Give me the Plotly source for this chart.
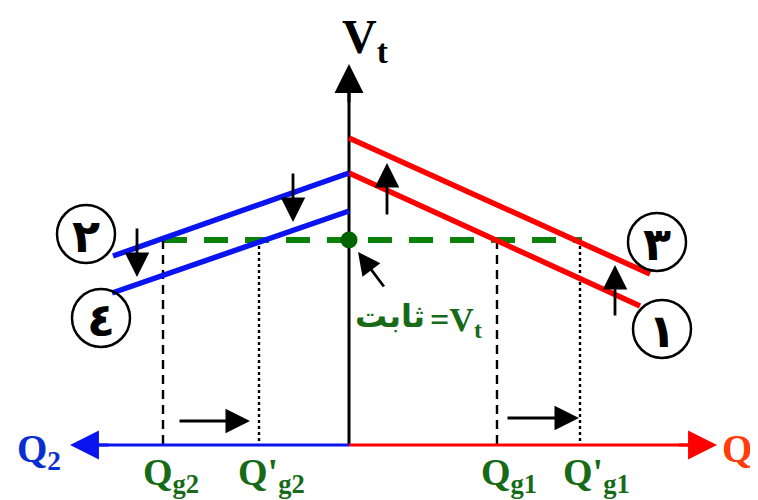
import plotly.graph_objects as go

# ---------------- data (diagram units: Q horizontal, Vt vertical; origin at axis crossing)
q_axis_left = -279          # Q2 direction arrow tip
q_axis_right = 368          # Q1 direction arrow tip
v_axis_top = 381            # Vt arrow tip

v_const = 205               # Vt = constant level
q_marks = [-186, -90, 148, 231]
q_mark_labels = ["Q<sub>g2</sub>", "Q'<sub>g2</sub>", "Q<sub>g1</sub>", "Q'<sub>g1</sub>"]
q_mark_dash = ["9px,6px", "3px,3px", "9px,6px", "3px,3px"]

# droop lines: name, end Q, Vt at Q=0, Vt at end
droop_names = ["١", "٢", "٣", "٤"]
droop_q_end = [291, -236, 301, -237]
droop_v_start = [272, 272, 307, 234]
droop_v_end = [139, 189, 171, 152]
droop_colors = ["#ff0000", "#0a14f0", "#ff0000", "#0a14f0"]

# circle label centres
circle_q = [313, -263, 308, -248]
circle_v = [116, 211, 203, 127]
circle_r = 29

# shift arrows (vertical): q, v from, v to
shift_q = [-212, -56, 38, 266]
shift_v_from = [218, 273, 229, 128]
shift_v_to = [168, 223, 282, 180]

# shift arrows (horizontal): v, q from, q to
hshift_v = [24, 27]
hshift_q_from = [-171, 157]
hshift_q_to = [-99, 230]

GREEN_TXT = "#176a17"
SERIF = "Liberation Serif, Times New Roman, serif"
ARABIC = "DejaVu Sans, Noto Sans, sans-serif"

# page body has an 8px margin: offset ranges so diagram lands at window pixels
PAGE_OFF = 8
FIG_W, FIG_H = 758 - PAGE_OFF, 500 - PAGE_OFF
X_RANGE = [-349 + PAGE_OFF, -349 + PAGE_OFF + FIG_W]
Y_RANGE = [445 - PAGE_OFF - FIG_H, 445 - PAGE_OFF]
LABEL_DX = [8, 12, 12, 16]

fig = go.Figure()

# vertical axis line
fig.add_trace(go.Scatter(x=[0, 0], y=[0, v_axis_top - 20], mode="lines",
                         line=dict(color="black", width=3), hoverinfo="skip"))

# green constant-voltage dashed line
fig.add_trace(go.Scatter(x=[q_marks[0], 233], y=[v_const, v_const], mode="lines",
                         line=dict(color="#0a820a", width=6, dash="24px,17px"), hoverinfo="skip"))

# vertical projection lines
for q, d in zip(q_marks, q_mark_dash):
    fig.add_trace(go.Scatter(x=[q, q], y=[v_const, 0], mode="lines",
                             line=dict(color="black", width=2.4, dash=d), hoverinfo="skip"))

# droop lines
for qe, vs, ve, c in zip(droop_q_end, droop_v_start, droop_v_end, droop_colors):
    fig.add_trace(go.Scatter(x=[0, qe], y=[vs, ve], mode="lines",
                             line=dict(color=c, width=5.5), hoverinfo="skip"))

# horizontal axis halves
fig.add_trace(go.Scatter(x=[q_axis_left + 20, 0], y=[0, 0], mode="lines",
                         line=dict(color="#0a14f0", width=3), hoverinfo="skip"))
fig.add_trace(go.Scatter(x=[0, q_axis_right - 20], y=[0, 0], mode="lines",
                         line=dict(color="#ff0000", width=3), hoverinfo="skip"))

# operating point
fig.add_trace(go.Scatter(x=[0], y=[v_const], mode="markers",
                         marker=dict(color="#006400", size=17), hoverinfo="skip"))

ann = []


def arrow(x, y, ax, ay, color="black", width=2.5, size=1.36):
    ann.append(dict(x=x, y=y, ax=ax, ay=ay, xref="x", yref="y", axref="x", ayref="y",
                    text="", showarrow=True, arrowhead=2, arrowsize=size,
                    arrowwidth=width, arrowcolor=color, standoff=0, startstandoff=0))


# axis arrowheads
arrow(0, v_axis_top, 0, v_axis_top - 40, "black", 3, 1.93)
arrow(q_axis_left, 0, q_axis_left + 40, 0, "#0a14f0", 3, 1.93)
arrow(q_axis_right, 0, q_axis_right - 40, 0, "#ff0000", 3, 1.93)

for q, v0, v1 in zip(shift_q, shift_v_from, shift_v_to):
    arrow(q, v1, q, v0, "black", 2.8, 1.75)
for v, q0, q1 in zip(hshift_v, hshift_q_from, hshift_q_to):
    arrow(q1, v, q0, v, "black", 2.8, 1.75)

# pointer to the constant point
arrow(9, 193, 36, 157, "black", 2.8, 1.6)

# circles and their numbers
shapes = []
for cq, cv, name in zip(circle_q, circle_v, droop_names):
    shapes.append(dict(type="circle", xref="x", yref="y",
                       x0=cq - circle_r, x1=cq + circle_r, y0=cv - circle_r, y1=cv + circle_r,
                       line=dict(color="black", width=2.5), fillcolor="rgba(255,255,255,0)"))
    ann.append(dict(x=cq, y=cv - 2, xref="x", yref="y", text="<b>%s</b>" % name,
                    showarrow=False, font=dict(family=ARABIC, size=46, color="black"),
                    xanchor="center", yanchor="middle"))

# axis labels
ann.append(dict(x=-9, y=405, xref="x", yref="y", text="<b>V<sub>t</sub></b>", showarrow=False,
                font=dict(family=SERIF, size=48, color="black"), xanchor="left", yanchor="middle"))
ann.append(dict(x=-334, y=-6, xref="x", yref="y", text="<b>Q<sub>2</sub></b>", showarrow=False,
                font=dict(family=SERIF, size=39, color="#0a2ed0"), xanchor="left", yanchor="middle"))
ann.append(dict(x=371, y=-6, xref="x", yref="y", text="<b>Q<sub>1</sub></b>", showarrow=False,
                font=dict(family=SERIF, size=39, color="#ff3c0a"), xanchor="left", yanchor="middle"))

for q, lab, dx in zip(q_marks, q_mark_labels, LABEL_DX):
    ann.append(dict(x=q + dx, y=-30, xref="x", yref="y", text="<b>%s</b>" % lab, showarrow=False,
                    font=dict(family=SERIF, size=38, color=GREEN_TXT), xanchor="center", yanchor="middle"))

# Vt = constant text
ann.append(dict(x=41, y=129, xref="x", yref="y", text="<b>ثابت</b>", showarrow=False,
                font=dict(family=ARABIC, size=32, color=GREEN_TXT), xanchor="center", yanchor="middle"))
ann.append(dict(x=79, y=123, xref="x", yref="y", text="<b>=V<sub>t</sub></b>", showarrow=False,
                font=dict(family=SERIF, size=34, color=GREEN_TXT), xanchor="left", yanchor="middle"))

fig.update_layout(
    width=FIG_W, height=FIG_H, margin=dict(l=0, r=0, t=0, b=0),
    paper_bgcolor="white", plot_bgcolor="white", showlegend=False,
    xaxis=dict(range=X_RANGE, visible=False, fixedrange=True),
    yaxis=dict(range=Y_RANGE, visible=False, fixedrange=True),
    annotations=ann, shapes=shapes,
)
fig.update_traces(cliponaxis=False)

fig.write_html("out.html")
